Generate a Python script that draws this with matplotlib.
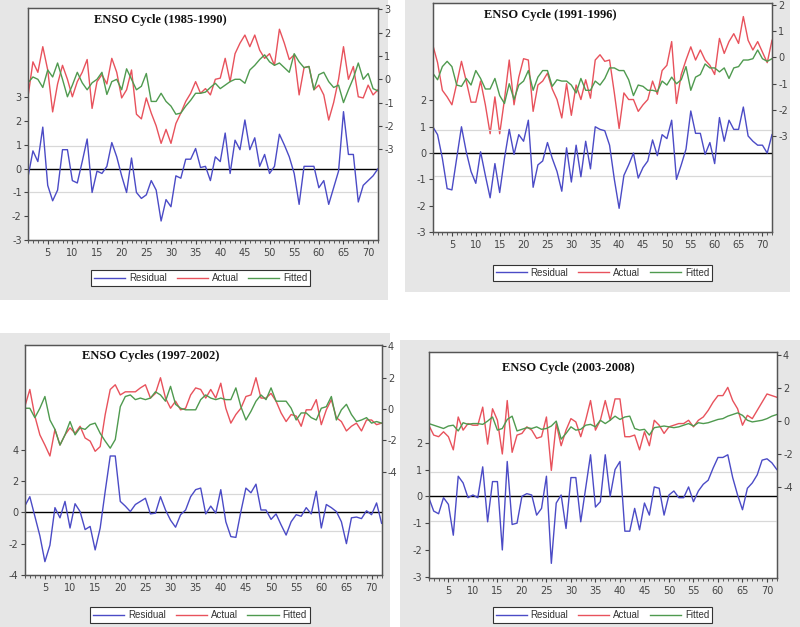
import matplotlib
matplotlib.use("Agg")
import matplotlib.pyplot as plt
from matplotlib.patches import Rectangle
from matplotlib.lines import Line2D
import numpy as np

obs = list(range(1, 73))

titles = ["ENSO Cycle (1985-1990)", "ENSO Cycle (1991-1996)",
          "ENSO Cycles (1997-2002)", "ENSO Cycle (2003-2008)"]
legend_labels = ["Residual", "Actual", "Fitted"]

# ---- Panel 1 (1985-1990)
resid_1 = [-0.35, 0.75, 0.3, 1.75, -0.7, -1.35, -0.9, 0.8, 0.8, -0.5, -0.6, 0.3, 1.25, -1.0, -0.1, -0.2,
           0.1, 1.1, 0.5, -0.3, -1.0, 0.45, -1.0, -1.25, -1.1, -0.5, -0.9, -2.2, -1.3, -1.6, -0.3, -0.4,
           0.4, 0.4, 0.85, 0.05, 0.1, -0.5, 0.5, 0.3, 1.5, -0.2, 1.2, 0.8, 2.05, 0.8, 1.3, 0.1,
           0.6, -0.2, 0.1, 1.45, 1.0, 0.5, -0.2, -1.5, 0.1, 0.1, 0.1, -0.8, -0.5, -1.5, -0.8, -0.1,
           2.4, 0.6, 0.6, -1.4, -0.7, -0.5, -0.3, 0.0]
actual_1 = [-0.75, 0.75, 0.3, 1.4, 0.4, -1.4, -0.2, 0.6, 0.0, -0.75, -0.1, 0.3, 0.85, -1.25, -0.1, 0.2,
            -0.2, 0.9, 0.3, -0.8, -0.45, 0.4, -1.5, -1.7, -0.8, -1.45, -2.0, -2.75, -2.15, -2.75, -1.9, -1.45,
            -0.95, -0.6, -0.1, -0.6, -0.4, -0.67, 0.0, 0.05, 0.9, -0.1, 1.1, 1.55, 1.9, 1.4, 1.9, 1.25,
            0.9, 1.1, 0.6, 2.15, 1.55, 0.85, 1.05, -0.67, 0.5, 0.55, -0.45, -0.25, -0.67, -1.75, -1.0, 0.0,
            1.4, 0.0, 0.55, -0.75, -0.8, -0.25, -0.67, -0.45]
fitted_1 = [-0.15, 0.1, 0.0, -0.35, 0.4, 0.1, 0.7, 0.0, -0.75, -0.25, 0.3, -0.15, -0.45, -0.15, 0.0, 0.3,
            -0.65, -0.1, 0.0, -0.45, 0.45, 0.0, -0.45, -0.3, 0.25, -0.95, -0.95, -0.6, -0.95, -1.15, -1.5, -1.45,
            -1.15, -0.9, -0.6, -0.6, -0.55, -0.35, -0.17, -0.4, -0.25, -0.1, 0.0, 0.0, -0.17, 0.4, 0.6, 0.85,
            1.05, 0.75, 0.6, 0.7, 0.5, 0.3, 1.1, 0.75, 0.5, 0.55, -0.45, 0.2, 0.3, -0.1, -0.35, -0.25,
            -1.0, -0.45, 0.05, 0.7, 0.0, 0.25, -0.4, -0.5]

# ---- Panel 2 (1991-1996)
resid_2 = [1.0, 0.7, -0.2, -1.35, -1.4, -0.2, 1.0, 0.05, -0.7, -1.15, 0.05, -0.85, -1.7, -0.4, -1.5, -0.2,
           0.9, -0.05, 0.7, 0.45, 1.25, -1.3, -0.45, -0.3, 0.4, -0.2, -0.7, -1.45, 0.2, -1.1, 0.3, -0.9,
           0.45, -0.6, 1.0, 0.9, 0.85, 0.3, -1.0, -2.1, -0.85, -0.45, 0.0, -0.95, -0.55, -0.3, 0.5, -0.1,
           0.7, 0.55, 1.25, -1.0, -0.45, 0.15, 1.6, 0.75, 0.75, -0.05, 0.4, -0.4, 1.35, 0.45, 1.25, 0.9,
           0.9, 1.75, 0.65, 0.45, 0.3, 0.3, 0.0, 0.7]
actual_2 = [0.47, -0.2, -1.25, -1.5, -1.8, -1.0, -0.15, -0.9, -1.7, -1.7, -0.9, -1.8, -2.9, -1.5, -2.9, -1.6,
            -0.1, -1.8, -0.75, -0.05, -0.1, -2.05, -1.05, -0.9, -0.6, -1.2, -1.6, -2.3, -1.0, -2.2, -1.05, -1.6,
            -0.85, -1.55, -0.1, 0.1, -0.15, -0.1, -1.35, -2.7, -1.35, -1.6, -1.6, -2.05, -1.8, -1.6, -0.9, -1.4,
            -0.5, -0.3, 0.6, -1.75, -0.65, -0.1, 0.4, -0.1, 0.28, -0.1, -0.3, -0.65, 0.72, 0.15, 0.6, 0.9,
            0.53, 1.55, 0.65, 0.28, 0.6, 0.2, -0.2, 0.65]
fitted_2 = [-0.6, -0.85, -0.35, -0.15, -0.35, -1.05, -1.1, -0.8, -1.05, -0.5, -0.8, -1.2, -1.2, -0.8, -1.45, -1.75,
            -1.0, -1.6, -1.05, -0.9, -0.5, -1.25, -0.75, -0.5, -0.5, -1.1, -0.85, -0.9, -0.9, -1.05, -1.35, -0.8,
            -1.25, -1.25, -0.9, -1.05, -0.8, -0.4, -0.4, -0.5, -0.5, -0.85, -1.45, -1.05, -1.1, -1.25, -1.25, -1.3,
            -0.9, -1.05, -0.75, -1.0, -0.85, -0.35, -1.25, -0.75, -0.65, -0.25, -0.4, -0.4, -0.55, -0.4, -0.8, -0.4,
            -0.35, -0.1, -0.1, -0.05, 0.28, -0.05, -0.15, -0.05]

# ---- Panel 3 (1997-2002)
resid_3 = [0.4, 1.0, -0.25, -1.5, -3.15, -2.1, 0.3, -0.35, 0.7, -1.0, 0.55, 0.05, -1.1, -0.9, -2.4, -1.0,
           1.35, 3.6, 3.6, 0.7, 0.4, 0.05, 0.5, 0.7, 0.9, -0.1, -0.05, 1.0, 0.15, -0.5, -0.95, -0.15,
           0.15, 1.0, 1.45, 1.55, -0.1, 0.4, -0.05, 1.45, -0.6, -1.55, -1.6, 0.05, 1.55, 1.25, 1.8, 0.15,
           0.15, -0.45, -0.1, -0.8, -1.45, -0.6, -0.15, -0.25, 0.3, -0.1, 1.35, -1.0, 0.5, 0.3, 0.05, -0.6,
           -2.0, -0.35, -0.3, -0.4, 0.1, -0.15, 0.6, -0.7]
actual_3 = [0.15, 1.25, -0.45, -1.65, -2.3, -3.0, -1.3, -2.3, -1.65, -1.2, -1.55, -1.1, -1.85, -2.05, -2.7, -2.4,
            -0.35, 1.25, 1.55, 0.9, 1.1, 1.1, 1.1, 1.35, 1.55, 0.7, 1.0, 2.0, 0.7, 0.05, 0.5, -0.05,
            0.05, 0.9, 1.35, 1.25, 0.7, 1.25, 0.7, 1.65, 0.05, -0.9, -0.35, 0.05, 0.8, 0.9, 2.0, 0.7,
            0.7, 1.0, 0.5, -0.25, -0.8, -0.35, -0.45, -1.1, -0.05, -0.05, 0.6, -1.0, -0.05, 0.6, -0.55, -0.8,
            -1.4, -1.1, -0.9, -1.4, -0.7, -0.7, -1.0, -0.9]
fitted_3 = [0.05, 0.05, -0.55, 0.05, 0.8, -0.7, -1.3, -2.3, -1.65, -0.8, -1.65, -1.2, -1.3, -1.0, -0.9, -1.55,
            -2.05, -2.5, -1.95, 0.15, 0.8, 0.9, 0.6, 0.7, 0.6, 0.7, 1.1, 0.9, 0.5, 1.45, 0.3, 0.05,
            -0.05, -0.05, -0.05, 0.6, 0.9, 0.7, 0.6, 0.7, 0.6, 0.6, 1.35, 0.15, -0.7, -0.15, 0.5, 0.9,
            0.6, 1.35, 0.5, 0.5, 0.5, 0.05, -0.7, -0.25, -0.25, -0.55, -0.7, 0.05, 0.15, 0.8, -0.7, -0.05,
            0.3, -0.35, -0.8, -0.7, -0.55, -0.9, -0.8, -0.9]

# ---- Panel 4 (2003-2008)
resid_4 = [-0.05, -0.55, -0.65, -0.05, -0.3, -1.45, 0.75, 0.5, -0.05, 0.05, -0.05, 1.1, -0.95, 0.55, 0.55, -2.0,
           1.3, -1.05, -1.0, 0.0, 0.1, 0.05, -0.7, -0.45, 0.75, -2.5, -0.25, 0.05, -1.2, 0.7, 0.7, -0.95,
           0.3, 1.55, -0.4, -0.2, 1.55, 0.0, 1.0, 1.3, -1.3, -1.3, -0.45, -1.25, -0.25, -0.7, 0.35, 0.3,
           -0.7, 0.05, 0.2, -0.05, -0.05, 0.35, -0.2, 0.2, 0.45, 0.6, 1.05, 1.45, 1.45, 1.55, 0.7, 0.05,
           -0.5, 0.3, 0.5, 0.8, 1.35, 1.4, 1.25, 1.0]
actual_4 = [-0.25, -0.85, -0.95, -0.65, -0.95, -1.75, 0.25, -0.55, -0.15, -0.25, -0.25, 0.85, -1.4, 0.75, 0.05, -2.0,
            1.25, -1.9, -0.85, -0.75, -0.35, -0.55, -1.05, -0.95, 0.25, -3.0, -0.15, -1.5, -0.55, 0.15, -0.05, -0.95,
            0.05, 1.25, -0.55, 0.05, 1.25, 0.05, 1.35, 1.35, -0.95, -0.95, -0.85, -1.75, -0.65, -1.5, 0.05, -0.25,
            -0.75, -0.35, -0.25, -0.15, -0.15, 0.05, -0.35, 0.05, 0.25, 0.65, 1.15, 1.55, 1.55, 2.05, 1.25, 0.75,
            -0.25, 0.35, 0.15, 0.65, 1.15, 1.65, 1.55, 1.45]
fitted_4 = [-0.15, -0.25, -0.35, -0.45, -0.3, -0.25, -0.6, -0.1, -0.2, -0.15, -0.15, -0.2, 0.0, 0.25, -0.55, -0.45,
            0.1, 0.3, -0.6, -0.5, -0.4, -0.45, -0.35, -0.5, -0.45, -0.3, 0.0, -1.1, -0.75, -0.35, -0.55, -0.5,
            -0.25, -0.2, -0.35, 0.05, -0.15, 0.05, 0.3, 0.1, 0.25, 0.3, -0.45, -0.55, -0.5, -0.85, -0.4, -0.35,
            -0.3, -0.35, -0.4, -0.35, -0.25, -0.15, -0.3, -0.1, -0.15, -0.1, 0.0, 0.1, 0.15, 0.3, 0.4, 0.5,
            0.35, 0.05, -0.05, 0.0, 0.05, 0.15, 0.3, 0.4]

panels = [
    dict(resid=resid_1, actual=actual_1, fitted=fitted_1, title=titles[0],
         rect=[0.035, 0.6172, 0.4375, 0.370], ylim_l=(-3, 6.76), ylim_r=(-6.9, 3.06),
         lt=[-3, -2, -1, 0, 1, 2, 3], rt=[-3, -2, -1, 0, 1, 2, 3], sd=0.97,
         title_xy=(0.19, 0.95), leg=(0.251, 0.556), frame=(0, 300, 388, 0)),
    dict(resid=resid_2, actual=actual_2, fitted=fitted_2, title=titles[1],
         rect=[0.541, 0.630, 0.424, 0.365], ylim_l=(-3, 5.7), ylim_r=(-6.63, 2.06),
         lt=[-3, -2, -1, 0, 1, 2], rt=[-3, -2, -1, 0, 1, 2], sd=0.88,
         title_xy=(0.15, 0.95), leg=(0.753, 0.565), frame=(405, 292, 790, 0)),
    dict(resid=resid_3, actual=actual_3, fitted=fitted_3, title=titles[2],
         rect=[0.031, 0.083, 0.446, 0.367], ylim_l=(-4, 10.7), ylim_r=(-10.6, 4.1),
         lt=[-4, -2, 0, 2, 4], rt=[-4, -2, 0, 2, 4], sd=1.18,
         title_xy=(0.16, 0.95), leg=(0.25, 0.019), frame=(0, 627, 390, 333)),
    dict(resid=resid_4, actual=actual_4, fitted=fitted_4, title=titles[3],
         rect=[0.536, 0.078, 0.435, 0.360], ylim_l=(-3.05, 5.37), ylim_r=(-9.55, 4.18),
         lt=[-3, -2, -1, 0, 1, 2], rt=[-4, -2, 0, 2, 4], sd=0.91,
         title_xy=(0.21, 0.93), leg=(0.753, 0.019), frame=(400, 627, 800, 340)),
]

C_RES = "#4b4bc6"
C_ACT = "#e8525c"
C_FIT = "#4f9a4f"
TICK_C = "#444444"

fig = plt.figure(figsize=(8.0, 6.27), dpi=100)
W, H = 800.0, 627.0

for p in panels:
    x0, y1, x1, y0 = p["frame"]
    fig.patches.append(Rectangle((x0 / W, 1 - y1 / H), (x1 - x0) / W, (y1 - y0) / H,
                                 transform=fig.transFigure, facecolor="#e6e6e6",
                                 edgecolor="none", zorder=-10))

for p in panels:
    ax = fig.add_axes(p["rect"])
    ax2 = ax.twinx()
    ax2.set_zorder(1)
    ax.set_zorder(2)
    ax2.patch.set_visible(True)
    ax2.patch.set_facecolor("white")
    ax.patch.set_visible(False)

    ax2.plot(obs, p["actual"], color=C_ACT, lw=1.0)
    ax2.plot(obs, p["fitted"], color=C_FIT, lw=1.0)
    ax.axhline(0, color="black", lw=1.0, zorder=1)
    ax.axhline(p["sd"], color="#d8d8d8", lw=0.9, zorder=1)
    ax.axhline(-p["sd"], color="#d8d8d8", lw=0.9, zorder=1)
    ax.plot(obs, p["resid"], color=C_RES, lw=1.0, zorder=2)

    ax.set_xlim(1, 72)
    ax.set_ylim(*p["ylim_l"])
    ax2.set_ylim(*p["ylim_r"])
    ax.set_yticks(p["lt"])
    ax.set_yticklabels([str(v) for v in p["lt"]])
    ax2.set_yticks(p["rt"])
    ax2.set_yticklabels([str(v) for v in p["rt"]])
    ax.set_xticks(list(range(5, 71, 5)))
    ax.set_xticks(obs, minor=True)

    for a in (ax, ax2):
        a.tick_params(axis="both", which="major", labelsize=7, colors=TICK_C,
                      length=3, width=0.8, pad=1.5, direction="out")
        a.tick_params(axis="both", which="minor", length=2, width=0.6, colors=TICK_C,
                      direction="out")
        for s in a.spines.values():
            s.set_color("#555555")
            s.set_linewidth(0.9)
    ax.tick_params(axis="x", which="major", pad=3)

    ax.text(p["title_xy"][0], p["title_xy"][1], p["title"], transform=ax.transAxes,
            fontsize=9, fontweight="bold", family="Liberation Serif",
            ha="left", va="center", color="#111111", zorder=5)

    handles = [Line2D([], [], color=C_RES, lw=1.0),
               Line2D([], [], color=C_ACT, lw=1.0),
               Line2D([], [], color=C_FIT, lw=1.0)]
    leg = ax.legend(handles, legend_labels, loc="center", bbox_to_anchor=p["leg"],
                    bbox_transform=fig.transFigure, ncol=3, frameon=True, fancybox=False,
                    edgecolor="#333333", facecolor="white", framealpha=1.0,
                    handlelength=3.2, handletextpad=0.4, columnspacing=1.0,
                    borderpad=0.3, prop={"family": "Liberation Sans", "size": 7})
    leg.get_frame().set_linewidth(0.8)
    for t in leg.get_texts():
        t.set_color("#333333")

fig.savefig("out.png", dpi=100)
